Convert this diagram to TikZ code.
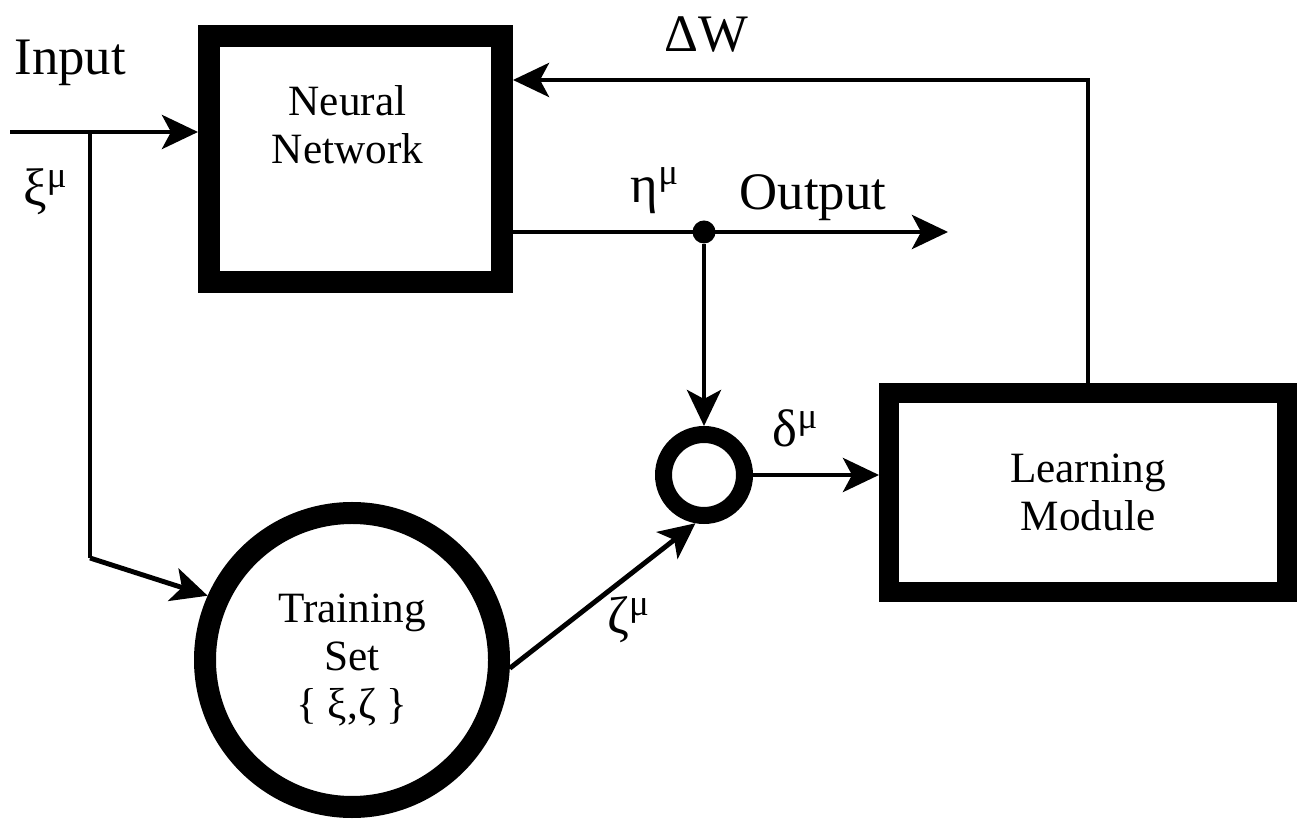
\documentclass[tikz,border=0pt]{standalone}
\usepackage{fontspec}
\setmainfont{Liberation Serif}
\usetikzlibrary{arrows.meta,positioning}
\newcommand{\boxfont}{\fontsize{12.3}{13.7}\selectfont}
\newcommand{\labfont}{\fontsize{15}{18}\selectfont}

\begin{document}
\begin{tikzpicture}[
    wire/.style={line width=1.4pt},
    flow/.style={line width=1.4pt, -{Stealth[length=3.6mm,width=3.4mm,inset=0.9mm]}},
    block/.style={draw, line width=0.22cm, outer sep=0.11cm, inner sep=0pt, font=\boxfont, align=center},
    ring/.style={draw, circle, line width=0.22cm, outer sep=0.11cm, inner sep=0pt, font=\boxfont, align=center},
    lab/.style={font=\labfont, inner sep=0pt}
  ]
  \useasboundingbox (0,0) rectangle (13.03,-8.24);

  % blocks
  \node[block, minimum width=2.93cm, minimum height=2.46cm] (nn) at (3.555,-1.59) {};
  \node[font=\boxfont, align=center] (nntext) at ([yshift=0.34cm,xshift=-0.08cm]nn.center) {Neural\\Network};
  \node[block, minimum width=3.98cm, minimum height=1.99cm, line width=0.20cm, outer sep=0.10cm] (lm) at (10.88,-4.925) {Learning\\Module};
  \node[ring, minimum size=2.94cm] (ts) at (3.52,-6.60) {Training\\Set\\\{ ξ,ζ \}};
  \node[circle, draw, line width=0.17cm, outer sep=0.085cm, minimum size=0.81cm, inner sep=0pt] (sum) at (7.04,-4.75) {};
  \node[circle, fill, inner sep=0pt, minimum size=0.23cm] (dot) at (7.04,-2.32) {};

  % free ends
  \coordinate (in) at (0.10,-1.32);
  \coordinate (split) at (0.90,-1.32);
  \coordinate (bend) at (0.90,-5.58);
  \coordinate (outend) at (9.48,-2.32);

  % connectors
  \draw[flow] (in) -- (nn.west |- in);
  \draw[wire] (split) -- (bend);
  \draw[flow] (bend) -- (ts.156);
  \draw[wire] (nn.east |- dot) -- (dot.center);
  \draw[flow] (dot.center) -- (outend);
  \draw[flow] (dot) -- (sum.north);
  \draw[flow] (ts.-3) -- (sum.-100);
  \draw[flow] (sum.east) -- (sum -| lm.west);
  \draw[flow] (lm.north) |- ([yshift=-0.55cm]nn.north east);

  % labels
  \node[lab, anchor=base west] (inlab) at (0.14,-0.75) {Input};
  \node[lab] (xilab) at (0.46,-1.92) {ξ\textsuperscript{μ}};
  \node[lab, anchor=base west] (dwlab) at (6.64,-0.52) {ΔW};
  \node[lab, anchor=base west] (etalab) at (6.30,-2.03) {η\textsuperscript{μ}};
  \node[lab, anchor=base west] (outlab) at (7.39,-2.10) {Output};
  \node[lab, anchor=base west] (deltalab) at (7.72,-4.47) {δ\textsuperscript{μ}};
  \node[lab] (zetalab) at (6.29,-6.20) {ζ\textsuperscript{μ}};
\end{tikzpicture}
\end{document}
